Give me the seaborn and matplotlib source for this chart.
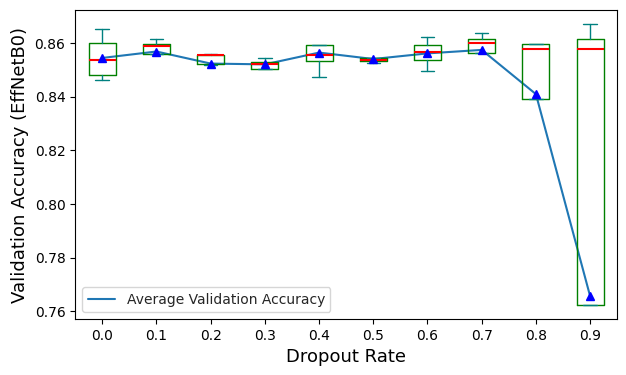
import matplotlib
matplotlib.use("Agg")
import matplotlib.pyplot as plt
import numpy as np
import seaborn as sns

# dropout rates and the box statistics
dropout = ["0.0", "0.1", "0.2", "0.3", "0.4", "0.5", "0.6", "0.7", "0.8", "0.9"]
whisk_lo = [0.8461, 0.8558, 0.8519, 0.8503, 0.8473, 0.8525, 0.8495, 0.8563, 0.8392, 0.7623]
q1 = [0.8481, 0.8560, 0.8521, 0.8504, 0.8534, 0.8532, 0.8537, 0.8563, 0.8392, 0.7623]
med = [0.8537, 0.8589, 0.8555, 0.8521, 0.8557, 0.8539, 0.8567, 0.8602, 0.8579, 0.8579]
q3 = [0.8602, 0.8596, 0.8557, 0.8529, 0.8592, 0.8544, 0.8592, 0.8615, 0.8596, 0.8615]
whisk_hi = [0.8652, 0.8615, 0.8560, 0.8544, 0.8592, 0.8544, 0.8624, 0.8637, 0.8597, 0.8671]
means = [0.8545, 0.8569, 0.8524, 0.8521, 0.8565, 0.8541, 0.8562, 0.8575, 0.8410, 0.7656]

stats = []
for i in range(len(dropout)):
    stats.append(dict(whislo=whisk_lo[i], q1=q1[i], med=med[i], q3=q3[i],
                      whishi=whisk_hi[i], mean=means[i], fliers=[]))

fig, ax = plt.subplots(figsize=(6.26, 3.75), dpi=100)
sns.set_style("ticks")
pos = np.arange(len(dropout))

sns.lineplot(x=pos, y=means, ax=ax, color="tab:blue", linewidth=1.5,
             label="Average Validation Accuracy", zorder=1.5)

ax.bxp(stats, positions=pos, widths=0.5, showmeans=True,
       boxprops=dict(color="green", linewidth=1),
       whiskerprops=dict(color="teal", linewidth=1),
       capprops=dict(color="teal", linewidth=1),
       medianprops=dict(color="red", linewidth=1.5),
       meanprops=dict(marker="^", markerfacecolor="blue", markeredgecolor="blue", markersize=6))

ax.set_xticks(pos)
ax.set_xticklabels(dropout)
ax.set_xlim(-0.5, 9.5)
ax.set_xlabel("Dropout Rate", fontsize=13)
ax.set_ylabel("Validation Accuracy (EffNetB0)", fontsize=13)
ax.legend(loc="lower left")

plt.subplots_adjust(left=0.12, right=0.986, top=0.973, bottom=0.149)
plt.savefig("out.png", dpi=100)
